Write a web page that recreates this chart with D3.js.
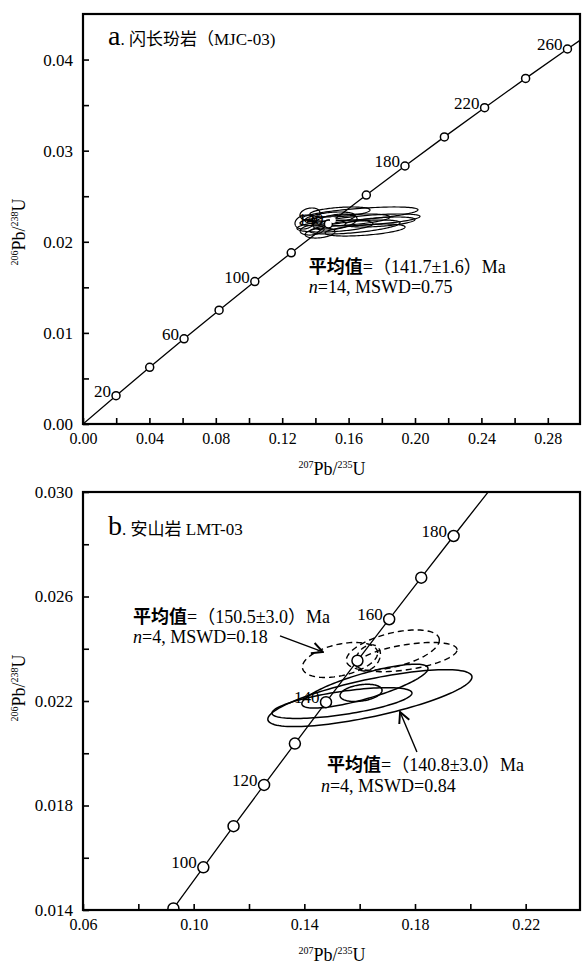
<!DOCTYPE html>
<html>
<head>
<meta charset="utf-8">
<script src="https://cdn.jsdelivr.net/npm/d3@7"></script>
<style>
  body { margin: 0; background: #fff; }
  svg text { font-family: "Liberation Serif", "Noto Sans CJK SC", serif; fill: #000; }
</style>
</head>
<body>
<div id="chart"></div>
<script>
(function () {

// ---- DATA ----
// decay constants (per Ma) for the concordia
const lambda238 = 1.55125e-4;
const lambda235 = 9.8485e-4;

// panel a: ages along the curve, circles, labelled circles
const curveAgesA  = [0, 20, 40, 60, 80, 100, 120, 140, 160, 180, 200, 220, 240, 260, 280];
const markerAgesA = [20, 40, 60, 80, 100, 120, 140, 160, 180, 200, 220, 240, 260];
const labelAgesA  = [20, 60, 100, 140, 180, 220, 260];

// panel b
const curveAgesB  = [80, 90, 100, 110, 120, 130, 140, 150, 160, 170, 180, 190, 200];
const markerAgesB = [90, 100, 110, 120, 130, 140, 150, 160, 170, 180];
const labelAgesB  = [100, 120, 140, 160, 180];

// tick values + labels
const xTicksA  = [0, 0.02, 0.04, 0.06, 0.08, 0.10, 0.12, 0.14, 0.16, 0.18, 0.20, 0.22, 0.24, 0.26, 0.28];
const xLabelsA = ["0.00", "", "0.04", "", "0.08", "", "0.12", "", "0.16", "", "0.20", "", "0.24", "", "0.28"];
const yTicksA  = [0, 0.005, 0.01, 0.015, 0.02, 0.025, 0.03, 0.035, 0.04];
const yLabelsA = ["0.00", "", "0.01", "", "0.02", "", "0.03", "", "0.04"];

const xTicksB  = [0.06, 0.08, 0.10, 0.12, 0.14, 0.16, 0.18, 0.20, 0.22];
const xLabelsB = ["0.06", "", "0.10", "", "0.14", "", "0.18", "", "0.22"];
const yTicksB  = [0.014, 0.016, 0.018, 0.020, 0.022, 0.024, 0.026, 0.028, 0.030];
const yLabelsB = ["0.014", "", "0.018", "", "0.022", "", "0.026", "", "0.030"];

// error ellipses: [207Pb/235U, 206Pb/238U, sx, sy, rho]
const ellipsesA = [
  [0.1669, 0.02305, 0.0349, 0.00077, 0.6],
  [0.1578, 0.02239, 0.0271, 0.00066, 0.5],
  [0.1518, 0.02173, 0.0229, 0.00066, 0.4],
  [0.1380, 0.02129, 0.0072, 0.00055, 0.2],
  [0.1367, 0.02305, 0.0060, 0.00066, 0.2],
  [0.1639, 0.02162, 0.0271, 0.00077, 0.6],
  [0.1488, 0.02261, 0.0151, 0.00066, 0.4],
  [0.1729, 0.02239, 0.0301, 0.00066, 0.6],
  [0.1428, 0.02096, 0.0090, 0.00055, 0.3],
  [0.1548, 0.02327, 0.0181, 0.00055, 0.4],
  [0.1699, 0.02129, 0.0241, 0.00066, 0.5],
  [0.1337, 0.02217, 0.0060, 0.00077, 0.2],
  [0.1518, 0.02217, 0.0133, 0.00088, 0.4],
  [0.1789, 0.02217, 0.0211, 0.00055, 0.5]
];
const meanA = [0.1505, 0.0224];

// panel b: solid group (140.8 Ma) and dashed group (150.5 Ma)
const ellipsesB140 = [
  [0.1637, 0.02211, 0.0369, 0.00109, 0.74],
  [0.1536, 0.02192, 0.0253, 0.00059, 0.65],
  [0.1605, 0.02231, 0.0076, 0.00033, 0.3],
  [0.1619, 0.02257, 0.0228, 0.00084, 0.8]
];
const ellipsesB150 = [
  [0.1529, 0.02357, 0.0136, 0.00067, 0.4],
  [0.1720, 0.02395, 0.0168, 0.00077, 0.5],
  [0.1771, 0.02368, 0.0181, 0.00056, 0.5],
  [0.1630, 0.02365, 0.0045, 0.00050, 0.3]
];

// ---- SET UP ----
const W = 582, H = 964;
const svg = d3.select("#chart").append("svg")
    .attr("width", W)
    .attr("height", H);

const r206 = t => Math.exp(lambda238 * t) - 1;
const r207 = t => Math.exp(lambda235 * t) - 1;

function ellipsePoints(e) {
  const [cx, cy, sx, sy, rho] = e;
  const k = Math.sqrt(1 - rho * rho);
  return d3.range(0, 361, 3).map(a => {
    const t = a * Math.PI / 180;
    return [cx + sx * Math.cos(t), cy + sy * (rho * Math.cos(t) + k * Math.sin(t))];
  });
}

// arrowhead (open V)
svg.append("defs").append("marker")
    .attr("id", "arrow")
    .attr("viewBox", "0 0 12 12")
    .attr("refX", 11).attr("refY", 6)
    .attr("markerWidth", 13).attr("markerHeight", 13)
    .attr("markerUnits", "userSpaceOnUse")
    .attr("orient", "auto")
  .append("path")
    .attr("d", "M1,1 L11,6 L1,11")
    .attr("fill", "none")
    .attr("stroke", "#000")
    .attr("stroke-width", 1.8);

function panel(opt) {
  const x = d3.scaleLinear().domain(opt.xDomain).range([83, 581]);
  const y = d3.scaleLinear().domain(opt.yDomain).range([opt.bottom, opt.top]);
  const g = svg.append("g");

  g.append("clipPath").attr("id", opt.id)
    .append("rect")
      .attr("x", 83).attr("y", opt.top)
      .attr("width", 498).attr("height", opt.bottom - opt.top);

  const plot = g.append("g").attr("clip-path", `url(#${opt.id})`);

  // concordia
  const line = d3.line().x(t => x(r207(t))).y(t => y(r206(t)));
  plot.append("path")
      .attr("d", line(opt.curve))
      .attr("fill", "none")
      .attr("stroke", "#000")
      .attr("stroke-width", 1.3);

  // ellipses
  const eline = d3.line().x(d => x(d[0])).y(d => y(d[1]));
  opt.ellipses.forEach(set => {
    plot.append("g").selectAll("path")
      .data(set.data)
      .join("path")
        .attr("d", d => eline(ellipsePoints(d)) + "Z")
        .attr("fill", "none")
        .attr("stroke", "#000")
        .attr("stroke-width", set.width)
        .attr("stroke-dasharray", set.dash);
  });

  // age circles
  plot.append("g").selectAll("circle")
    .data(opt.markers)
    .join("circle")
      .attr("cx", t => x(r207(t)))
      .attr("cy", t => y(r206(t)))
      .attr("r", opt.r)
      .attr("fill", "#fff")
      .attr("stroke", "#000")
      .attr("stroke-width", 1.5);

  // age labels
  g.append("g").selectAll("text")
    .data(opt.labels)
    .join("text")
      .attr("x", t => x(r207(t)) - opt.r - 1)
      .attr("y", t => y(r206(t)) + 1)
      .attr("text-anchor", "end")
      .attr("font-size", 17)
      .text(t => t);

  // axes (ticks inside the frame)
  g.append("g")
      .attr("transform", `translate(0,${opt.bottom})`)
      .call(d3.axisBottom(x).tickValues(opt.xTicks).tickSizeInner(-6).tickSizeOuter(0)
        .tickPadding(9).tickFormat((d, i) => opt.xLabels[i]))
      .call(a => a.select(".domain").remove())
      .call(a => a.selectAll("line").attr("stroke-width", 1.6))
      .call(a => a.selectAll("text").attr("font-size", 16).attr("font-family", null));

  g.append("g")
      .attr("transform", "translate(83,0)")
      .call(d3.axisLeft(y).tickValues(opt.yTicks).tickSizeInner(-6).tickSizeOuter(0)
        .tickPadding(10).tickFormat((d, i) => opt.yLabels[i]))
      .call(a => a.select(".domain").remove())
      .call(a => a.selectAll("line").attr("stroke-width", 1.6))
      .call(a => a.selectAll("text").attr("font-size", 17).attr("font-family", null));

  // frame
  g.append("rect")
      .attr("x", 83).attr("y", opt.top)
      .attr("width", 497).attr("height", opt.bottom - opt.top)
      .attr("fill", "none")
      .attr("stroke", "#000")
      .attr("stroke-width", 2.2);

  // axis titles
  const xt = g.append("text")
      .attr("x", 332).attr("y", opt.bottom + 51)
      .attr("text-anchor", "middle")
      .attr("font-size", 18);
  xt.append("tspan").attr("font-size", 10).attr("dy", -7).text("207");
  xt.append("tspan").attr("dy", 7).text("Pb/");
  xt.append("tspan").attr("font-size", 10).attr("dy", -7).text("235");
  xt.append("tspan").attr("dy", 7).text("U");

  const yt = g.append("text")
      .attr("transform", `translate(25,${opt.yTitle}) rotate(-90)`)
      .attr("text-anchor", "middle")
      .attr("font-size", 18);
  yt.append("tspan").attr("font-size", 10).attr("dy", -7).text("206");
  yt.append("tspan").attr("dy", 7).text("Pb/");
  yt.append("tspan").attr("font-size", 10).attr("dy", -7).text("238");
  yt.append("tspan").attr("dy", 7).text("U");

  return {g, x, y};
}

// two-line result note: bold 平均值 line, italic n line
function note(g, x1, y1, x2, y2, value, stats) {
  const l1 = g.append("text").attr("x", x1).attr("y", y1).attr("font-size", 18);
  l1.append("tspan").attr("font-weight", "bold").text("平均值");
  l1.append("tspan").text(value);
  const l2 = g.append("text").attr("x", x2).attr("y", y2).attr("font-size", 18);
  l2.append("tspan").attr("font-style", "italic").text("n");
  l2.append("tspan").text(stats);
}

// ---- PANEL A ----
const A = panel({
  id: "clipA",
  xDomain: [0, 0.30], yDomain: [0, 0.045], top: 14, bottom: 424,
  curve: curveAgesA, markers: markerAgesA, labels: labelAgesA, r: 4,
  ellipses: [{data: ellipsesA, width: 1.2, dash: null}],
  xTicks: xTicksA, xLabels: xLabelsA, yTicks: yTicksA, yLabels: yLabelsA,
  yTitle: 232
});

A.g.append("circle")
    .attr("cx", A.x(meanA[0])).attr("cy", A.y(meanA[1]))
    .attr("r", 3).attr("fill", "#fff");

const tA = A.g.append("text").attr("x", 108).attr("y", 45).attr("font-size", 17);
tA.append("tspan").attr("font-size", 28).text("a");
tA.append("tspan").text(". 闪长玢岩（MJC-03)");

note(A.g, A.x(0.136), 273, A.x(0.136), 293, "=（141.7±1.6）Ma", "=14, MSWD=0.75");

// ---- PANEL B ----
const B = panel({
  id: "clipB",
  xDomain: [0.06, 0.24], yDomain: [0.014, 0.030], top: 492, bottom: 910,
  curve: curveAgesB, markers: markerAgesB, labels: labelAgesB, r: 5.5,
  ellipses: [{data: ellipsesB140, width: 1.5, dash: null},
             {data: ellipsesB150, width: 1.4, dash: "6,4"}],
  xTicks: xTicksB, xLabels: xLabelsB, yTicks: yTicksB, yLabels: yLabelsB,
  yTitle: 688
});

const tB = B.g.append("text").attr("x", 108).attr("y", 535).attr("font-size", 17);
tB.append("tspan").attr("font-size", 28).text("b");
tB.append("tspan").text(". 安山岩  LMT-03");

note(B.g, B.x(0.0781), 623, B.x(0.0781), 643, "=（150.5±3.0）Ma", "=4, MSWD=0.18");
note(B.g, B.x(0.1482), 771, B.x(0.1460), 792, "=（140.8±3.0）Ma", "=4, MSWD=0.84");

// arrows pointing at the two groups
const arrows = [
  [[0.1312, 0.02449], [0.1467, 0.02388]],
  [[0.1807, 0.02005], [0.1746, 0.02158]]
];
B.g.append("g").selectAll("line")
  .data(arrows)
  .join("line")
    .attr("x1", d => B.x(d[0][0])).attr("y1", d => B.y(d[0][1]))
    .attr("x2", d => B.x(d[1][0])).attr("y2", d => B.y(d[1][1]))
    .attr("stroke", "#000")
    .attr("stroke-width", 1.4)
    .attr("marker-end", "url(#arrow)");

})()
</script>
</body>
</html>
